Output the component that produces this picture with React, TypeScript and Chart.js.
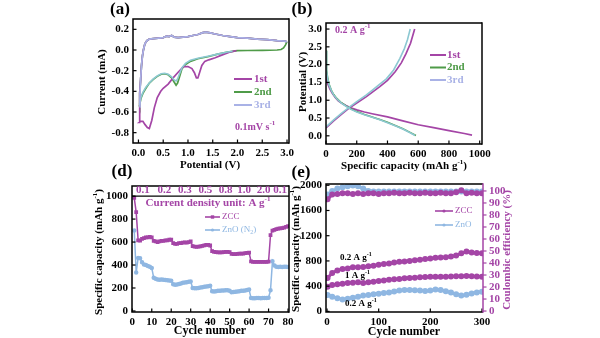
import React, { useEffect, useRef } from "react";
import { Chart, registerables } from "chart.js";
Chart.register(...registerables);

const FONT = "'Liberation Serif','DejaVu Serif',serif";
const PURPLE = "#a445a6";
const GREEN = "#4f9b48";
const LAVENDER = "#a9b2e6";
const TEAL = "#8cc8d2";
const BLUE = "#8fb7e2";

// ---------- (a) CV curves ----------
const cvAnodicV = [0.02, 0.03, 0.045, 0.06, 0.08, 0.1, 0.13, 0.17, 0.22, 0.3, 0.4, 0.5, 0.57, 0.62, 0.67, 0.72, 0.8, 0.9, 1.0, 1.1, 1.2, 1.3, 1.36, 1.45, 1.55, 1.7, 1.85, 2.0, 2.2, 2.4, 2.6, 2.8, 2.95, 3.0];
const cvAnodicI = [-0.55, -0.42, -0.28, -0.16, -0.06, 0.0, 0.06, 0.09, 0.105, 0.11, 0.115, 0.12, 0.135, 0.13, 0.14, 0.125, 0.12, 0.125, 0.13, 0.14, 0.15, 0.168, 0.172, 0.165, 0.155, 0.14, 0.13, 0.12, 0.115, 0.105, 0.1, 0.09, 0.085, 0.08];
const cv1CathV = [1.98, 1.85, 1.68, 1.55, 1.42, 1.34, 1.28, 1.24, 1.2, 1.17, 1.13, 1.08, 1.0, 0.91, 0.81, 0.7, 0.6, 0.5, 0.45, 0.38, 0.32, 0.27, 0.22, 0.18, 0.13, 0.09, 0.05, 0.02];
const cv1CathI = [-0.005, -0.02, -0.05, -0.075, -0.095, -0.11, -0.15, -0.21, -0.27, -0.27, -0.22, -0.18, -0.16, -0.16, -0.21, -0.27, -0.33, -0.37, -0.4, -0.46, -0.56, -0.68, -0.76, -0.75, -0.72, -0.69, -0.69, -0.7];
const cv2CathV = [3.0, 2.97, 2.93, 2.88, 2.8, 2.5, 2.2, 2.0, 1.8, 1.6, 1.4, 1.2, 1.05, 0.95, 0.88, 0.83, 0.79, 0.76, 0.72, 0.67, 0.6, 0.53, 0.46, 0.38, 0.3, 0.22, 0.15, 0.09, 0.05, 0.02];
const cv2CathI = [0.08, 0.05, 0.02, 0.005, 0.0, -0.003, -0.005, -0.006, -0.02, -0.04, -0.065, -0.085, -0.11, -0.14, -0.18, -0.26, -0.32, -0.34, -0.31, -0.27, -0.24, -0.23, -0.235, -0.255, -0.285, -0.32, -0.37, -0.42, -0.47, -0.54];
const cv3CathV = [1.9, 1.8, 1.6, 1.4, 1.2, 1.05, 0.95, 0.88, 0.83, 0.79, 0.76, 0.72, 0.67, 0.6, 0.53, 0.46, 0.38, 0.3, 0.22, 0.15, 0.09, 0.05, 0.02];
const cv3CathI = [-0.012, -0.02, -0.04, -0.06, -0.08, -0.1, -0.13, -0.17, -0.23, -0.28, -0.3, -0.29, -0.26, -0.235, -0.225, -0.23, -0.25, -0.28, -0.32, -0.36, -0.41, -0.46, -0.53];
const aXTicks = [0, 0.5, 1, 1.5, 2, 2.5, 3];
const aYTicks = [0.2, 0, -0.2, -0.4, -0.6, -0.8];
const aLegend = ["1st", "2nd", "3rd"];

// ---------- (b) GCD curves ----------
const b1DisX = [0, 3, 8, 15, 25, 40, 60, 80, 100, 130, 160, 200, 250, 300, 400, 500, 600, 700, 800, 900, 950];
const b1DisY = [1.78, 1.6, 1.5, 1.42, 1.32, 1.2, 1.08, 0.98, 0.92, 0.85, 0.79, 0.73, 0.67, 0.62, 0.53, 0.42, 0.31, 0.23, 0.145, 0.065, 0.02];
const b2DisX = [0, 2, 5, 10, 20, 35, 50, 70, 100, 130, 160, 200, 250, 300, 350, 400, 450, 500, 550, 585];
const b2DisY = [2.4, 2.1, 1.85, 1.65, 1.45, 1.28, 1.16, 1.05, 0.93, 0.84, 0.76, 0.68, 0.6, 0.53, 0.46, 0.38, 0.29, 0.2, 0.09, 0.01];
const b3DisX = [0, 2, 5, 10, 20, 35, 50, 70, 100, 130, 160, 200, 250, 300, 350, 400, 450, 500, 550, 580];
const b3DisY = [2.38, 2.05, 1.82, 1.62, 1.43, 1.27, 1.15, 1.04, 0.92, 0.83, 0.75, 0.67, 0.59, 0.52, 0.45, 0.37, 0.28, 0.19, 0.08, 0.01];
const b1ChX = [0, 20, 50, 100, 154, 200, 263, 300, 350, 400, 450, 490, 520, 550, 577];
const b1ChY = [0.22, 0.3, 0.42, 0.6, 0.79, 0.92, 1.1, 1.22, 1.38, 1.56, 1.8, 2.05, 2.3, 2.6, 3.0];
const b23ChX = [0, 20, 50, 100, 154, 200, 263, 300, 350, 393, 440, 480, 510, 530, 548];
const b23ChY = [0.25, 0.33, 0.45, 0.63, 0.81, 0.96, 1.15, 1.28, 1.45, 1.6, 1.85, 2.17, 2.45, 2.7, 3.0];
const bXTicks = [0, 200, 400, 600, 800, 1000];
const bYTicks = [0, 0.5, 1, 1.5, 2, 2.5, 3];

// ---------- (d) rate performance ----------
const dCycles = [1, 2, 3, 4, 5, 6, 7, 8, 9, 10, 11, 12, 13, 14, 15, 16, 17, 18, 19, 20, 21, 22, 23, 24, 25, 26, 27, 28, 29, 30, 31, 32, 33, 34, 35, 36, 37, 38, 39, 40, 41, 42, 43, 44, 45, 46, 47, 48, 49, 50, 51, 52, 53, 54, 55, 56, 57, 58, 59, 60, 61, 62, 63, 64, 65, 66, 67, 68, 69, 70, 71, 72, 73, 74, 75, 76, 77, 78, 79, 80];
const dZcc = [985, 860, 615, 612, 628, 635, 640, 640, 645, 640, 610, 605, 600, 605, 610, 610, 615, 615, 620, 622, 590, 585, 585, 590, 590, 595, 598, 595, 600, 605, 565, 560, 558, 560, 563, 566, 572, 576, 576, 570, 520, 515, 512, 510, 510, 510, 512, 515, 515, 512, 497, 495, 495, 497, 500, 500, 500, 503, 505, 508, 432, 428, 428, 428, 428, 428, 428, 428, 428, 430, 660, 700, 705, 712, 716, 720, 722, 726, 732, 738];
const dZnO = [700, 335, 462, 458, 425, 405, 400, 392, 385, 375, 290, 280, 275, 272, 275, 272, 270, 268, 265, 262, 232, 228, 230, 235, 240, 245, 248, 250, 255, 257, 200, 198, 197, 200, 205, 207, 210, 213, 216, 219, 172, 170, 172, 175, 175, 178, 178, 180, 180, 176, 162, 165, 168, 170, 172, 175, 176, 178, 182, 186, 112, 110, 110, 112, 112, 110, 112, 113, 112, 115, 180, 432, 395, 385, 383, 385, 382, 384, 386, 383];
const dRates = ["0.1", "0.2", "0.3", "0.5", "0.8", "1.0", "2.0", "0.1"];
const dRateAt = [5.5, 16.5, 27, 37.5, 48, 57.5, 67.5, 76];
const dXTicks = [0, 10, 20, 30, 40, 50, 60, 70, 80];
const dYTicks = [0, 200, 400, 600, 800, 1000];

// ---------- (e) cycling ----------
const eCycles = [1, 10, 20, 30, 40, 50, 60, 70, 80, 90, 100, 110, 120, 130, 140, 150, 160, 170, 180, 190, 200, 210, 220, 230, 240, 250, 260, 270, 280, 290, 300];
const eZcc02 = [530, 610, 650, 670, 680, 700, 700, 705, 715, 725, 740, 750, 760, 775, 785, 790, 800, 810, 820, 830, 840, 850, 855, 860, 870, 885, 920, 950, 935, 925, 920];
const eZcc1 = [390, 420, 430, 440, 450, 455, 460, 450, 460, 470, 480, 490, 500, 510, 515, 525, 530, 535, 540, 545, 550, 550, 550, 550, 552, 555, 555, 560, 555, 552, 550];
const eZno02 = [260, 230, 210, 190, 200, 215, 230, 250, 260, 270, 280, 290, 300, 315, 330, 340, 340, 335, 330, 325, 330, 345, 340, 320, 300, 270, 250, 265, 285, 300, 310];
const eZccCE = [93, 97, 97.5, 98, 98, 97.5, 98, 97.5, 98, 98, 97.5, 98, 98, 98.5, 98, 98, 98.5, 98, 98, 98.5, 98, 98, 98.5, 98, 98, 99, 100.5, 98, 98.5, 98, 98];
const eZnoCE = [97, 100, 102, 103, 104, 104.5, 104, 102, 100, 99.5, 99.5, 99.5, 99.5, 99.5, 99.5, 99.5, 99.5, 99.5, 99.5, 99.5, 99.5, 99.5, 99.5, 99.5, 99.5, 99.5, 99.5, 99.5, 99.5, 99.5, 99.5];
const eXTicks = [0, 100, 200, 300];
const eYTicks = [0, 400, 800, 1200, 1600, 2000];
const eY1Ticks = [0, 10, 20, 30, 40, 50, 60, 70, 80, 90, 100];

// ---------- helpers ----------
type Area = { l: number; t: number; r: number; b: number };
const xy = (xs: number[], ys: number[]) => xs.map((x, i) => ({ x, y: ys[i] }));

function lay(a: Area, yW: number, yRW: number, xH: number) {
  return { padding: { left: a.l - yW, right: 600 - a.r - yRW, top: a.t, bottom: 338 - a.b - xH } };
}
const tickFont = { family: FONT, size: 11, weight: "bold" as const };
function scale(min: number, max: number, ticks: number[], fmt: (v: number) => string, size: number, horiz: boolean, extra: any = {}, color = "#000", pad = 4) {
  return {
    type: "linear",
    min,
    max,
    afterBuildTicks: (s: any) => { s.ticks = ticks.map((v) => ({ value: v })); },
    afterFit: (s: any) => { if (horiz) s.height = size; else s.width = size; },
    grid: { display: false, drawTicks: false, tickLength: 0 },
    border: { display: false },
    ticks: { color, font: tickFont, padding: pad, maxRotation: 0, autoSkip: false, callback: (v: any) => fmt(Number(v)) },
    ...extra,
  };
}
function ds(data: any[], color: string, width: number, extra: any = {}) {
  return { data, borderColor: color, backgroundColor: color, borderWidth: width, showLine: true, pointRadius: 0, tension: 0, fill: false, ...extra };
}

// rich text: supports ^{..} and _{..}
function rich(ctx: CanvasRenderingContext2D, s: string, x: number, y: number, color: string, size: number, align: "left" | "center" = "center", rot = 0, bold = true) {
  const segs: { t: string; k: number }[] = [];
  const re = /(\^\{[^}]*\}|_\{[^}]*\})/g;
  let last = 0; let m: RegExpExecArray | null;
  while ((m = re.exec(s))) {
    if (m.index > last) segs.push({ t: s.slice(last, m.index), k: 0 });
    segs.push({ t: m[0].slice(2, -1), k: m[0][0] === "^" ? 1 : -1 });
    last = m.index + m[0].length;
  }
  if (last < s.length) segs.push({ t: s.slice(last), k: 0 });
  const w = bold ? "bold " : "";
  const fontOf = (k: number) => `${w}${k === 0 ? size : Math.round(size * 0.65)}px ${FONT}`;
  let total = 0;
  for (const g of segs) { ctx.font = fontOf(g.k); total += ctx.measureText(g.t).width; }
  ctx.save();
  ctx.translate(x, y);
  if (rot) ctx.rotate(rot);
  ctx.fillStyle = color;
  ctx.textBaseline = "middle";
  ctx.textAlign = "left";
  let cx = align === "center" ? -total / 2 : 0;
  for (const g of segs) {
    ctx.font = fontOf(g.k);
    const dy = g.k === 1 ? -size * 0.35 : g.k === -1 ? size * 0.25 : 0;
    ctx.fillText(g.t, cx, dy);
    cx += ctx.measureText(g.t).width;
  }
  ctx.restore();
}
function seg(ctx: CanvasRenderingContext2D, x1: number, y1: number, x2: number, y2: number, color: string, w: number) {
  ctx.save(); ctx.strokeStyle = color; ctx.lineWidth = w; ctx.beginPath(); ctx.moveTo(x1, y1); ctx.lineTo(x2, y2); ctx.stroke(); ctx.restore();
}
function dot(ctx: CanvasRenderingContext2D, x: number, y: number, r: number, color: string, square = false) {
  ctx.save(); ctx.fillStyle = color; ctx.beginPath();
  if (square) ctx.rect(x - r, y - r, 2 * r, 2 * r); else ctx.arc(x, y, r, 0, Math.PI * 2);
  ctx.fill(); ctx.restore();
}

function frame(id: string, extra: (chart: any, ctx: CanvasRenderingContext2D) => void, rightColor = "#000") {
  return {
    id,
    afterDraw(chart: any) {
      const ctx: CanvasRenderingContext2D = chart.ctx;
      const a = chart.chartArea;
      const xs = chart.scales.x; const ys = chart.scales.y;
      xs.ticks.forEach((t: any) => { const p = xs.getPixelForValue(t.value); seg(ctx, p, a.bottom, p, a.bottom - 3.5, "#000", 1.2); });
      ys.ticks.forEach((t: any) => { const p = ys.getPixelForValue(t.value); seg(ctx, a.left, p, a.left + 3.5, p, "#000", 1.2); });
      ctx.save();
      ctx.strokeStyle = "#000"; ctx.lineWidth = 1.5;
      ctx.beginPath(); ctx.moveTo(a.right, a.top); ctx.lineTo(a.left, a.top); ctx.lineTo(a.left, a.bottom); ctx.lineTo(a.right, a.bottom); ctx.stroke();
      ctx.strokeStyle = rightColor; ctx.beginPath(); ctx.moveTo(a.right, a.top - 0.7); ctx.lineTo(a.right, a.bottom + 0.7); ctx.stroke();
      ctx.restore();
      extra(chart, ctx);
    },
  };
}
const base = {
  responsive: false,
  animation: false as const,
  events: [] as any[],
  plugins: { legend: { display: false }, tooltip: { enabled: false } },
};

// ---------- chart makers ----------
function makeA(c: HTMLCanvasElement) {
  const area = { l: 133, t: 19, r: 289, b: 143 };
  return new Chart(c, {
    type: "scatter",
    data: {
      datasets: [
        ds(xy(cvAnodicV, cvAnodicI), LAVENDER, 1.7),
        ds(xy(cv3CathV, cv3CathI), TEAL, 1.6),
        ds(xy([...cv1CathV, ...cvAnodicV], [...cv1CathI, ...cvAnodicI]), PURPLE, 1.7),
        ds(xy([...cv2CathV, ...cvAnodicV], [...cv2CathI, ...cvAnodicI]), GREEN, 1.7),
      ],
    },
    options: {
      ...base,
      layout: lay(area, 40, 0, 22),
      scales: {
        x: scale(-0.11, 3.04, aXTicks, (v) => v.toFixed(1), 22, true),
        y: scale(-0.9, 0.3, aYTicks, (v) => v.toFixed(1), 40, false),
      },
    } as any,
    plugins: [frame("fa", (ch, ctx) => {
      rich(ctx, "(a)", 120, 10, "#000", 17);
      rich(ctx, "Current (mA)", 102, 82, "#000", 11, "center", -Math.PI / 2);
      rich(ctx, "Potential (V)", 210, 165, "#000", 11);
      const cols = [PURPLE, GREEN, LAVENDER];
      aLegend.forEach((s, i) => {
        const y = 79 + i * 13;
        seg(ctx, 234, y, 252, y, cols[i], 2);
        rich(ctx, s, 254, y, cols[i], 11, "left");
      });
      rich(ctx, "0.1mV s^{-1}", 235, 127, PURPLE, 10, "left");
    }) as any],
  });
}

function makeB(c: HTMLCanvasElement) {
  const area = { l: 326, t: 23, r: 482, b: 144 };
  return new Chart(c, {
    type: "scatter",
    data: {
      datasets: [
        ds(xy(b3DisX, b3DisY), TEAL, 1.6),
        ds(xy(b23ChX, b23ChY), TEAL, 1.6),
        ds(xy(b2DisX, b2DisY), GREEN, 1.6),
        ds(xy(b1DisX, b1DisY), PURPLE, 1.7),
        ds(xy(b1ChX, b1ChY), PURPLE, 1.7),
      ],
    },
    options: {
      ...base,
      layout: lay(area, 36, 0, 22),
      scales: {
        x: scale(0, 1015, bXTicks, (v) => String(v), 22, true),
        y: scale(-0.23, 3.17, bYTicks, (v) => v.toFixed(1), 36, false),
      },
    } as any,
    plugins: [frame("fb", (ch, ctx) => {
      rich(ctx, "(b)", 302, 10, "#000", 17);
      rich(ctx, "Potential (V)", 303, 82, "#000", 11, "center", -Math.PI / 2);
      rich(ctx, "Specific capacity (mAh g^{-1})", 404, 166, "#000", 11);
      rich(ctx, "0.2 A g^{-1}", 335, 30, PURPLE, 10, "left");
      const cols = [PURPLE, GREEN, LAVENDER];
      aLegend.forEach((s, i) => {
        const y = 55 + i * 12.5;
        seg(ctx, 430, y, 446, y, cols[i], 2);
        rich(ctx, s, 447, y, cols[i], 11, "left");
      });
    }) as any],
  });
}

function makeD(c: HTMLCanvasElement) {
  const area = { l: 132, t: 186, r: 289, b: 312 };
  return new Chart(c, {
    type: "scatter",
    data: {
      datasets: [
        ds(xy(dCycles, dZcc), PURPLE, 1.5, { pointRadius: 1.6, pointStyle: "rect" }),
        ds(xy(dCycles, dZnO), BLUE, 1.5, { pointRadius: 1.5 }),
      ],
    },
    options: {
      ...base,
      layout: lay(area, 42, 0, 22),
      scales: {
        x: scale(-0.15, 80.5, dXTicks, (v) => String(v), 22, true),
        y: scale(-9, 1088, dYTicks, (v) => String(v), 42, false),
      },
    } as any,
    plugins: [frame("fd", (ch, ctx) => {
      const a = ch.chartArea; const xs = ch.scales.x; const ys = ch.scales.y;
      const yl = ys.getPixelForValue(1000);
      seg(ctx, a.left, yl, a.right, yl, "#000", 1.3);
      dRates.forEach((s, i) => rich(ctx, s, xs.getPixelForValue(dRateAt[i]), 190, PURPLE, 11));
      rich(ctx, "Current density unit: A g^{-1}", 208, 203, PURPLE, 11);
      seg(ctx, 205, 217, 220, 217, PURPLE, 1.6); dot(ctx, 212.5, 217, 1.7, PURPLE, true);
      rich(ctx, "ZCC", 222, 217, PURPLE, 9, "left", 0, false);
      seg(ctx, 205, 230, 220, 230, BLUE, 1.6); dot(ctx, 212.5, 230, 1.6, BLUE);
      rich(ctx, "ZnO (N_{2})", 222, 230, BLUE, 9, "left", 0, false);
      rich(ctx, "(d)", 122, 172, "#000", 17);
      rich(ctx, "Specific capacity (mAh g^{-1})", 99, 252, "#000", 11, "center", -Math.PI / 2);
      rich(ctx, "Cycle number", 210, 331, "#000", 12);
    }) as any],
  });
}

function makeE(c: HTMLCanvasElement) {
  const area = { l: 326, t: 184, r: 483, b: 312 };
  return new Chart(c, {
    type: "scatter",
    data: {
      datasets: [
        ds(xy(eCycles, eZccCE), PURPLE, 3, { yAxisID: "y1", pointRadius: 1.5 }),
        ds(xy(eCycles, eZnoCE), BLUE, 3, { yAxisID: "y1", pointRadius: 1.5 }),
        ds(xy(eCycles, eZcc02), PURPLE, 3, { pointRadius: 1.5 }),
        ds(xy(eCycles, eZcc1), PURPLE, 3, { pointRadius: 1.5 }),
        ds(xy(eCycles, eZno02), BLUE, 3, { pointRadius: 1.5 }),
      ],
    },
    options: {
      ...base,
      layout: lay(area, 37, 36, 22),
      scales: {
        x: scale(-2, 302, eXTicks, (v) => String(v), 22, true),
        y: scale(-10, 2020, eYTicks, (v) => String(v), 37, false),
        y1: { ...scale(-0.8, 105.8, eY1Ticks, (v) => String(v), 36, false, {}, PURPLE, 6), position: "right" },
      },
    } as any,
    plugins: [frame("fe", (ch, ctx) => {
      const a = ch.chartArea; const y1 = ch.scales.y1;
      y1.ticks.forEach((t: any) => { const p = y1.getPixelForValue(t.value); seg(ctx, a.right, p, a.right + 3.5, p, PURPLE, 1.2); });
      rich(ctx, "(e)", 301, 173, "#000", 17);
      rich(ctx, "Specific capacity (mAh g^{-1})", 296, 249, "#000", 11, "center", -Math.PI / 2);
      rich(ctx, "Coulombic efficiency (%)", 507, 250, PURPLE, 11, "center", -Math.PI / 2);
      rich(ctx, "Cycle number", 404, 332, "#000", 12);
      rich(ctx, "0.2 A g^{-1}", 340, 258, "#000", 9, "left");
      rich(ctx, "1 A g^{-1}", 345, 276, "#000", 9, "left");
      rich(ctx, "0.2 A g^{-1}", 345, 304, "#000", 9, "left");
      seg(ctx, 435, 211, 453, 211, PURPLE, 1.6); dot(ctx, 444, 211, 1.6, PURPLE);
      rich(ctx, "ZCC", 455, 211, PURPLE, 9, "left", 0, false);
      seg(ctx, 435, 225, 453, 225, BLUE, 1.6); dot(ctx, 444, 225, 1.6, BLUE);
      rich(ctx, "ZnO", 455, 225, BLUE, 9, "left", 0, false);
    }, PURPLE) as any],
  });
}

function Panel({ make }: { make: (c: HTMLCanvasElement) => Chart }) {
  const ref = useRef<HTMLCanvasElement>(null);
  useEffect(() => {
    const ch = make(ref.current!);
    return () => ch.destroy();
  }, [make]);
  return <canvas ref={ref} width={600} height={338} style={{ position: "absolute", left: 0, top: 0, width: 600, height: 338 }} />;
}

export default function App() {
  return (
    <div style={{ position: "fixed", left: 0, top: 0, width: 600, height: 338, overflow: "hidden", background: "#fff" }}>
      <Panel make={makeA} />
      <Panel make={makeB} />
      <Panel make={makeD} />
      <Panel make={makeE} />
    </div>
  );
}
